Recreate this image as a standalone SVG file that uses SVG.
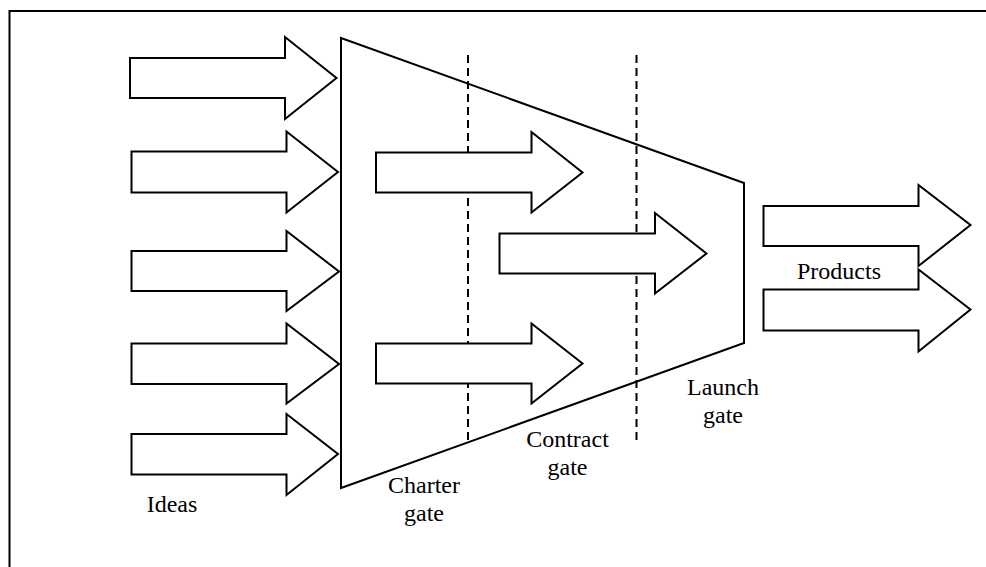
<svg xmlns="http://www.w3.org/2000/svg" width="986" height="567" viewBox="0 0 986 567">
<style>
.ln{fill:none;stroke:#000;stroke-width:2;stroke-linejoin:miter}
.ar{fill:#fff;stroke:#000;stroke-width:2;stroke-linejoin:miter}
.dash{fill:none;stroke:#000;stroke-width:2;stroke-dasharray:8,5}
.lbl{font-family:'Liberation Serif','Times New Roman','DejaVu Serif',serif;font-size:24px;fill:#000;text-anchor:middle}
</style>
<rect x="0" y="0" width="986" height="567" fill="#fff"/>
<rect id="frame" x="9.5" y="11" width="1000" height="600" class="ln"/>
<g id="funnel">
<polygon class="ln" points="341,38 744,183 744,343 341,488"/>
</g>
<g id="connectors">
<line class="dash" x1="468" y1="55" x2="468" y2="444"/>
<line class="dash" x1="636.5" y1="55" x2="636.5" y2="445"/>
</g>
<g id="ideas-arrows">
<polygon class="ar" points="130,58 285,58 285,37 336.5,78 285,119 285,98 130,98"/>
<polygon class="ar" points="131.5,151.5 286.5,151.5 286.5,131.5 338,172 286.5,212.5 286.5,192.5 131.5,192.5"/>
<polygon class="ar" points="131.5,251 286.5,251 286.5,231 339,271.5 286.5,311 286.5,291 131.5,291"/>
<polygon class="ar" points="131.5,343.5 286.5,343.5 286.5,323.5 339,364 286.5,403.5 286.5,384 131.5,384"/>
<polygon class="ar" points="131.5,434 286.5,434 286.5,414 338,454 286.5,495 286.5,474.5 131.5,474.5"/>
</g>
<g id="inner-arrows">
<polygon class="ar" points="376,152.5 531.5,152.5 531.5,132 582.5,172.5 531.5,212.5 531.5,192.5 376,192.5"/>
<polygon class="ar" points="499.5,233.5 655,233.5 655,213 706.5,253.5 655,293.5 655,273.5 499.5,273.5"/>
<polygon class="ar" points="376,343.5 531.5,343.5 531.5,323.5 582.5,363.5 531.5,403.5 531.5,383.5 376,383.5"/>
</g>
<g id="product-arrows">
<polygon class="ar" points="763.5,206 918.5,206 918.5,185 970.5,225 918.5,266 918.5,246 763.5,246"/>
<polygon class="ar" points="763.5,289.5 918.5,289.5 918.5,269.5 970.5,309.5 918.5,351.5 918.5,330.5 763.5,330.5"/>
</g>
<g id="labels" font-family="'Liberation Serif', 'Times New Roman', serif" font-size="24">
<text id="ideas" class="lbl" x="172" y="511.5">Ideas</text>
<text id="charter" class="lbl" x="424" y="493"><tspan x="424">Charter</tspan><tspan x="424" dy="28">gate</tspan></text>
<text id="contract" class="lbl" x="567.5" y="446.5"><tspan x="567.5">Contract</tspan><tspan x="567.5" dy="28">gate</tspan></text>
<text id="launch" class="lbl" x="723" y="395"><tspan x="723">Launch</tspan><tspan x="723" dy="28">gate</tspan></text>
<text id="products" class="lbl" x="839" y="278.5">Products</text>
</g>
</svg>
